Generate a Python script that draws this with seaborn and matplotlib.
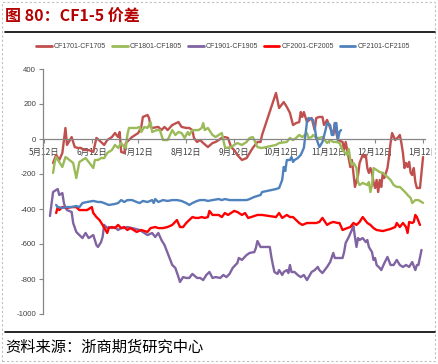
import matplotlib
matplotlib.use("Agg")
import matplotlib.pyplot as plt
import seaborn as sns
import pandas as pd
from matplotlib.patches import Rectangle
from matplotlib.lines import Line2D
from matplotlib.transforms import Bbox, TransformedBbox

sns.set_theme(style="white")
plt.rcParams['font.family'] = ['Noto Sans CJK SC', 'DejaVu Sans']

# ---------------- data (month-day, value) ----------------
cf1701_dates = ["05-18","05-20","05-22","05-24","05-26","05-27","05-30","06-01","06-03","06-05","06-07","06-10","06-13","06-15","06-18","06-20","06-22","06-25","06-27","06-29","06-30","07-01","07-03","07-04","07-08","07-12","07-14","07-15","07-18","07-19","07-20","07-21","07-25","07-27","07-29","07-31","08-03","08-07","08-09","08-12","08-14","08-16","08-17","08-19","08-21","08-23","08-26","08-29","08-31","09-02","09-04","09-06","09-08","09-10","09-12","09-14","09-17","09-20","09-22","09-24","09-27","09-29","09-30","10-09","10-11","10-14","10-16","10-18","10-20","10-22","10-24","10-25","10-26","10-27","10-29","11-01","11-03","11-04","11-06","11-08","11-09","11-11","11-13","11-15","11-16","11-17","11-18","11-21","11-22","11-23","11-24","11-26","11-27","11-28","11-29","12-01","12-02","12-04","12-05","12-06","12-07","12-08","12-09","12-10","12-11","12-12","12-13","12-14","12-15","12-16","12-17","12-18","12-20","12-21","12-22","12-23","12-25","12-27","12-28","12-29","12-30","12-31","01-01","01-02","01-03","01-04","01-05","01-06","01-07","01-08","01-10","01-12"]
cf1701_values = [-137,-91,-120,-80,63,-34,11,-46,-51,-51,-63,-63,-74,6,-17,-34,-6,11,34,11,40,-74,-80,-23,11,34,69,126,137,120,69,63,69,51,69,51,80,97,69,63,63,51,6,-17,-6,-23,-46,-23,-17,-6,6,11,6,-46,-63,-91,-120,-109,-80,-51,-17,-17,23,263,177,211,183,149,80,91,97,154,126,154,97,120,51,120,126,126,80,109,63,23,91,34,-6,-17,-63,-17,-63,-160,-120,-194,-274,-206,-137,-91,-103,-91,-166,-194,-166,-194,-246,-280,-234,-303,-234,-274,-194,-223,-166,-103,-23,34,-6,11,23,-23,-80,-166,-137,-160,-131,-194,-206,-166,-246,-280,-280,-103]

cf1801_dates = ["05-18","05-19","05-20","05-24","05-26","05-27","05-31","06-02","06-04","06-06","06-08","06-10","06-13","06-14","06-16","06-18","06-20","06-22","06-25","06-27","06-29","07-01","07-03","07-04","07-05","07-06","07-08","07-11","07-13","07-14","07-16","07-18","07-20","07-21","07-24","07-26","07-28","07-31","08-03","08-05","08-07","08-09","08-11","08-13","08-14","08-16","08-20","08-22","08-23","08-24","08-26","08-29","08-31","09-02","09-04","09-06","09-07","09-10","09-12","09-14","09-17","09-20","09-22","09-24","09-25","09-27","09-29","09-30","10-09","10-11","10-16","10-18","10-20","10-22","10-24","10-26","10-29","10-30","11-01","11-02","11-04","11-06","11-08","11-11","11-13","11-15","11-17","11-19","11-21","11-24","11-25","11-26","11-27","11-28","11-29","11-30","12-01","12-02","12-04","12-07","12-08","12-09","12-10","12-11","12-13","12-15","12-17","12-20","12-22","12-24","12-26","12-28","12-30","01-01","01-02","01-04","01-05","01-07","01-09","01-12"]
cf1801_values = [-194,-137,-103,-160,-103,-109,-137,-223,-131,-120,-109,-131,-166,-120,-120,-109,-109,-80,-63,-34,-51,-23,-46,-51,23,63,63,63,69,40,69,63,97,40,51,51,-6,-6,51,23,40,34,6,40,23,51,51,63,91,51,63,23,11,23,34,-46,-51,-46,-34,-23,-34,-17,6,11,-6,-46,-51,-51,-34,-23,-17,6,-6,6,23,11,34,6,11,23,6,6,11,-23,-6,-17,-17,-23,-63,-91,-57,-120,-149,-137,-149,-166,-246,-263,-251,-263,-246,-303,-263,-166,-177,-189,-194,-217,-234,-263,-274,-274,-291,-309,-320,-337,-366,-349,-349,-365]

cf1901_dates = ["05-16","05-18","05-19","05-21","05-22","05-24","05-25","05-26","05-27","05-30","05-31","06-02","06-04","06-06","06-08","06-10","06-13","06-15","06-16","06-18","06-19","06-20","06-22","06-23","06-25","06-27","06-29","07-01","07-03","07-05","07-08","07-13","07-16","07-18","07-21","07-23","07-25","07-27","07-29","07-31","08-03","08-05","08-07","08-08","08-10","08-12","08-14","08-16","08-19","08-21","08-23","08-25","08-27","08-29","08-31","09-03","09-05","09-07","09-09","09-11","09-14","09-15","09-17","09-20","09-22","09-25","09-26","09-27","09-29","09-30","10-05","10-06","10-07","10-08","10-10","10-11","10-13","10-14","10-16","10-17","10-18","10-19","10-21","10-23","10-25","10-27","10-29","11-01","11-03","11-05","11-06","11-08","11-11","11-13","11-15","11-16","11-18","11-21","11-22","11-23","11-25","11-27","11-28","11-29","11-30","12-01","12-02","12-04","12-06","12-07","12-08","12-10","12-11","12-12","12-13","12-15","12-16","12-18","12-20","12-22","12-24","12-26","12-28","12-30","01-01","01-03","01-05","01-07","01-08","01-09","01-11"]
cf1901_values = [-440,-303,-297,-286,-320,-309,-366,-394,-406,-417,-480,-531,-549,-566,-537,-566,-549,-606,-617,-589,-560,-491,-509,-503,-509,-503,-520,-509,-509,-503,-509,-520,-537,-549,-537,-560,-537,-577,-606,-651,-720,-737,-789,-817,-789,-794,-794,-771,-794,-794,-806,-777,-760,-794,-789,-794,-777,-789,-771,-737,-709,-680,-691,-663,-651,-646,-623,-583,-617,-617,-617,-674,-720,-760,-771,-749,-777,-760,-749,-766,-720,-760,-760,-777,-789,-777,-806,-760,-749,-731,-749,-766,-731,-703,-651,-680,-680,-680,-646,-594,-560,-520,-497,-560,-617,-566,-577,-566,-589,-577,-617,-646,-691,-680,-720,-737,-749,-709,-674,-720,-720,-691,-720,-731,-720,-731,-703,-749,-720,-720,-634]

cf2001_dates = ["05-20","05-21","05-22","05-24","05-27","05-30","06-02","06-04","06-06","06-09","06-12","06-13","06-15","06-17","06-19","06-22","06-23","06-25","06-27","06-29","07-01","07-03","07-05","07-07","07-11","07-14","07-18","07-20","07-23","07-25","07-28","07-31","08-03","08-06","08-08","08-10","08-12","08-14","08-16","08-18","08-20","08-22","08-24","08-26","08-27","08-29","09-02","09-04","09-06","09-08","09-12","09-14","09-17","09-19","09-21","09-23","09-27","09-30","10-09","10-11","10-13","10-16","10-18","10-20","10-22","10-24","10-26","10-29","11-01","11-04","11-06","11-08","11-11","11-13","11-15","11-18","11-19","11-21","11-24","11-26","11-28","11-30","12-02","12-04","12-07","12-09","12-11","12-13","12-17","12-22","12-25","12-26","12-28","12-30","01-01","01-02","01-03","01-05","01-06","01-07","01-08","01-10"]
cf2001_values = [-423,-389,-406,-389,-394,-389,-389,-406,-406,-406,-389,-423,-446,-463,-491,-537,-509,-503,-509,-491,-509,-503,-520,-509,-531,-520,-531,-509,-503,-509,-509,-503,-491,-463,-503,-503,-480,-463,-446,-451,-451,-446,-451,-446,-411,-434,-434,-446,-423,-434,-411,-417,-434,-423,-451,-446,-434,-434,-446,-423,-451,-434,-446,-446,-463,-480,-491,-480,-480,-480,-474,-451,-491,-480,-474,-480,-480,-520,-509,-503,-480,-491,-474,-446,-480,-491,-509,-520,-526,-514,-503,-480,-503,-480,-503,-537,-474,-480,-474,-434,-446,-491]

cf2101_dates = ["05-20","05-21","05-24","05-27","05-30","06-02","06-04","06-06","06-09","06-13","06-16","06-18","06-20","06-23","06-27","06-29","07-01","07-03","07-05","07-08","07-11","07-13","07-15","07-18","07-21","07-22","07-23","07-25","07-28","07-31","08-03","08-06","08-09","08-12","08-14","08-16","08-19","08-21","08-24","08-26","08-29","09-02","09-04","09-06","09-09","09-12","09-15","09-20","09-22","09-25","09-29","09-30","10-09","10-11","10-13","10-14","10-15","10-16","10-18","10-19","10-20","10-21","10-23","10-25","10-27","10-28","10-29","10-30","11-02","11-03","11-04","11-06","11-08","11-10","11-11","11-13","11-14","11-15","11-16","11-17","11-18","11-19","11-20"]
cf2101_values = [-377,-389,-394,-389,-389,-383,-389,-366,-360,-354,-360,-360,-366,-377,-371,-366,-349,-360,-349,-349,-360,-366,-354,-360,-349,-366,-343,-360,-349,-354,-349,-349,-354,-366,-377,-366,-354,-349,-349,-354,-349,-343,-349,-343,-349,-349,-349,-349,-343,-331,-320,-303,-286,-280,-234,-160,-183,-120,-120,-103,-131,-120,-109,-91,-51,23,97,120,109,69,6,-46,-17,51,91,80,23,23,91,91,-6,40,51]

series_names = ["CF1701-CF1705", "CF1801-CF1805", "CF1901-CF1905", "CF2001-CF2005", "CF2101-CF2105"]
series_dates = [cf1701_dates, cf1801_dates, cf1901_dates, cf2001_dates, cf2101_dates]
series_values = [cf1701_values, cf1801_values, cf1901_values, cf2001_values, cf2101_values]
series_colors = ["#C0504D", "#9BBB59", "#8064A2", "#FF0000", "#4F81BD"]

x_tick_labels = ["5月12日", "6月12日", "7月12日", "8月12日", "9月12日", "10月12日", "11月12日", "12月12日", "1月12日"]
y_ticks = [-1000, -800, -600, -400, -200, 0, 200, 400]


def to_ts(md):
    m = int(md.split("-")[0])
    year = 2021 if m == 1 else 2020
    return pd.Timestamp(f"{year}-{md}")


frames = []
for name, ds, vs in zip(series_names, series_dates, series_values):
    frames.append(pd.DataFrame({"date": [to_ts(d) for d in ds], "value": vs, "series": name}))
df = pd.concat(frames, ignore_index=True)

W, H = 438, 364
fig = plt.figure(figsize=(W / 100, H / 100), dpi=100)
fig.patch.set_facecolor("white")
ax = fig.add_axes([43 / W, 1 - 314 / H, (425 - 43) / W, (314 - 69) / H])
ax.set_facecolor("white")

sns.lineplot(data=df, x="date", y="value", hue="series", hue_order=series_names,
             palette=dict(zip(series_names, series_colors)), estimator=None,
             linewidth=1.7, ax=ax, legend=False)

ax.set_ylim(-1000, 400)
ax.set_xlim(pd.Timestamp("2020-05-11 12:00"), pd.Timestamp("2021-01-13 06:00"))
ax.set_xlabel("")
ax.set_ylabel("")

for s in ["top", "right"]:
    ax.spines[s].set_visible(False)
ax.spines["bottom"].set_position(("data", 0))
for s in ["left", "bottom"]:
    ax.spines[s].set_color("#868686")
    ax.spines[s].set_linewidth(0.9)
ax.tick_params(axis="y", length=3, width=0.8, color="#868686", pad=2, direction="out",
               left=True, labelsize=5.6, labelcolor="#404040")
ax.tick_params(axis="x", length=3, width=0.8, color="#868686", pad=3.5, direction="out",
               bottom=True, labelsize=6.0, labelcolor="#404040")
ax.grid(False)

tick_dates = [to_ts(d) for d in ["05-12", "06-12", "07-12", "08-12", "09-12", "10-12", "11-12", "12-12", "01-12"]]
ax.set_xticks(tick_dates)
ax.set_xticklabels(x_tick_labels)
ax.set_yticks(y_ticks)
ax.set_yticklabels([str(v) for v in y_ticks])
for t in ax.get_xticklabels():
    t.set_fontsize(6.0)
    t.set_color("#404040")
for t in ax.get_yticklabels():
    t.set_fontsize(5.6)
    t.set_fontfamily("Liberation Sans")
    t.set_color("#404040")

# clip last x label like the original
last = ax.get_xticklabels()[-1]
last.set_clip_box(TransformedBbox(Bbox([[0, 0], [432 / W, 1]]), fig.transFigure))
last.set_clip_on(True)

# legend
handles = [Line2D([0], [0], color=c, lw=2.0) for c in series_colors]
leg = fig.legend(handles, series_names, loc="center", bbox_to_anchor=(223 / W, 1 - 47 / H),
                 ncol=5, frameon=False, handlelength=2.3, handletextpad=0.3, columnspacing=0.8,
                 prop={"family": "Liberation Sans", "size": 5.0})
for t in leg.get_texts():
    t.set_color("#404040")

# title, rules, source, border
fig.text(5 / W, 1 - 16 / H, "图 80：CF1-5 价差", fontsize=11.5, fontweight="bold",
         color="#B40000", ha="left", va="center")
fig.add_artist(Line2D([5 / W, 435 / W], [1 - 32 / H, 1 - 32 / H], color="black", lw=1.2))
fig.add_artist(Line2D([5 / W, 435 / W], [1 - 332 / H, 1 - 332 / H], color="black", lw=1.2))
fig.text(5 / W, 1 - 347 / H, "资料来源：浙商期货研究中心", fontsize=11, color="black",
         ha="left", va="center")
fig.add_artist(Rectangle((2 / W, 1 - 361 / H), 433 / W, 359 / H, transform=fig.transFigure,
                         fill=False, edgecolor="#BFBFBF", lw=0.8, ls=(0, (2, 2))))

fig.savefig("out.png", dpi=100)
